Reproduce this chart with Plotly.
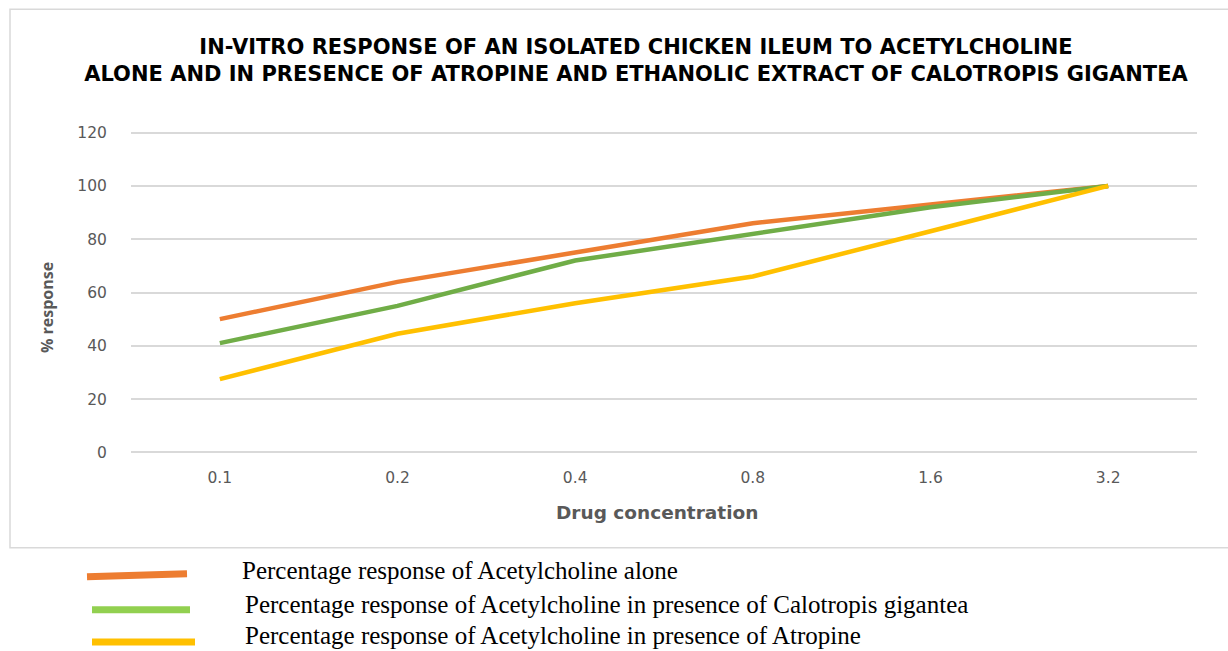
import plotly.graph_objects as go

concentrations = ["0.1", "0.2", "0.4", "0.8", "1.6", "3.2"]
ach_alone = [50, 64, 75, 86, 93, 100]
ach_calotropis = [41, 55, 72, 82, 92, 100]
ach_atropine = [27.5, 44.5, 56, 66, 83, 100]

series_names = [
    "Percentage response of Acetylcholine alone",
    "Percentage response of Acetylcholine in presence of Calotropis gigantea",
    "Percentage response of Acetylcholine in presence of Atropine",
]
line_colors = ["#ED7D31", "#70AD47", "#FFC000"]
legend_colors = ["#ED7D31", "#92D050", "#FFC000"]

W, H = 1228, 651
# pixel rows of the y=120 and y=0 gridlines, and x extent of the plot area
Y120, Y0 = 133, 452
L, R = 131, 1197
PAD_UNITS = 0.6
ppu = (Y0 - Y120) / 120.0
T = Y120 - PAD_UNITS * ppu
B = Y0 + PAD_UNITS * ppu


def px(x):
    return (x - L) / (R - L)


def py(y):
    return (B - y) / (B - T)


fig = go.Figure()
for vals, name, col in zip([ach_alone, ach_calotropis, ach_atropine], series_names, line_colors):
    fig.add_trace(go.Scatter(x=concentrations, y=vals, mode="lines", name=name,
                             line=dict(color=col, width=4.5), showlegend=False))

shapes = [
    dict(type="rect", xref="paper", yref="paper", x0=px(10), x1=px(1240), y0=py(547), y1=py(10),
         line=dict(color="#D9D9D9", width=1.5), fillcolor="rgba(0,0,0,0)", layer="below"),
    dict(type="line", xref="paper", yref="paper", x0=px(87), y0=py(576), x1=px(187), y1=py(573),
         line=dict(color=legend_colors[0], width=7)),
    dict(type="line", xref="paper", yref="paper", x0=px(92), y0=py(609), x1=px(190), y1=py(609),
         line=dict(color=legend_colors[1], width=7)),
    dict(type="line", xref="paper", yref="paper", x0=px(92), y0=py(641), x1=px(195), y1=py(641),
         line=dict(color=legend_colors[2], width=7)),
]

annotations = []
legend_text_pos = [(240, 570), (243, 604), (243, 635)]
for name, (x, y) in zip(series_names, legend_text_pos):
    annotations.append(dict(text=name, xref="paper", yref="paper", x=px(x), y=py(y),
                            xanchor="left", yanchor="middle", showarrow=False,
                            font=dict(family="Liberation Serif", size=25, color="black")))

annotations.append(dict(text="<b>Drug concentration</b>", xref="paper", yref="paper",
                        x=px(657), y=py(512), xanchor="center", yanchor="middle", showarrow=False,
                        font=dict(family="DejaVu Sans", size=18.5, color="#595959")))
annotations.append(dict(text="<b>% response</b>", xref="paper", yref="paper",
                        x=px(47), y=py(308), xanchor="center", yanchor="middle", showarrow=False,
                        textangle=-90,
                        font=dict(family="Open Sans", size=16, color="#595959")))

fig.update_layout(
    width=W, height=H,
    margin=dict(l=L, r=W - R, t=T, b=H - B, pad=0),
    paper_bgcolor="white", plot_bgcolor="white",
    title=dict(text="<b>IN-VITRO RESPONSE OF AN ISOLATED CHICKEN ILEUM TO ACETYLCHOLINE<br>"
                    "ALONE AND IN PRESENCE OF ATROPINE AND ETHANOLIC EXTRACT OF CALOTROPIS GIGANTEA</b>",
               x=636 / W, xanchor="center", xref="container",
               y=1 - 54 / H, yanchor="middle", yref="container",
               font=dict(family="DejaVu Sans", size=21, color="black")),
    shapes=shapes,
    annotations=annotations,
    xaxis=dict(type="category", categoryorder="array", categoryarray=concentrations,
               range=[-0.5, len(concentrations) - 0.5], showgrid=False, zeroline=False,
               showline=False, ticks="outside", ticklen=9, tickcolor="rgba(0,0,0,0)",
               tickfont=dict(family="DejaVu Sans", size=15.5, color="#595959")),
    yaxis=dict(range=[-PAD_UNITS, 120 + PAD_UNITS], tickvals=[0, 20, 40, 60, 80, 100, 120],
               showgrid=True, gridcolor="#D9D9D9", gridwidth=1.5, zeroline=False, showline=False,
               ticks="outside", ticklen=20, tickcolor="rgba(0,0,0,0)",
               tickfont=dict(family="DejaVu Sans", size=15.5, color="#595959")),
)

fig.write_html("out.html", config={"displayModeBar": False},
               post_script="document.body.style.margin='0';")
